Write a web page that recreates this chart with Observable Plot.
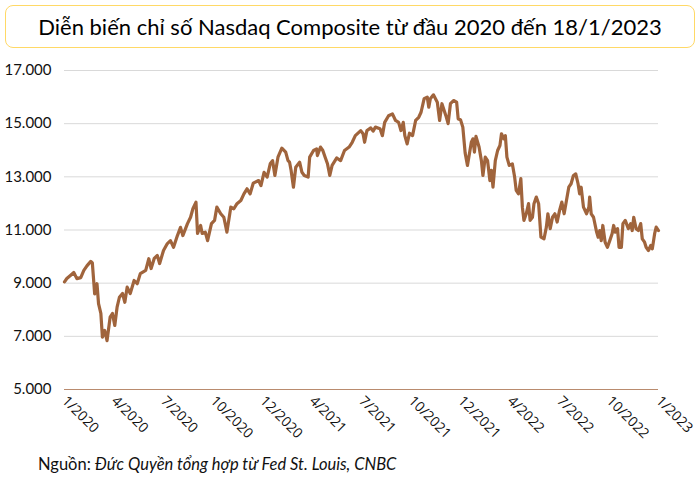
<!DOCTYPE html>
<html>
<head>
<meta charset="utf-8">
<script src="https://cdn.jsdelivr.net/npm/d3@7"></script>
<script src="https://cdn.jsdelivr.net/npm/@observablehq/plot@0.6"></script>
<style>
  html, body { margin: 0; padding: 0; background: #fff; }
  #wrap { position: relative; width: 700px; height: 483px; overflow: hidden; font-family: Lato, "Open Sans", sans-serif; }
  #title { position: absolute; left: 5px; top: 5px; width: 688px; height: 41px; border: 1.5px solid #FFD966; border-radius: 8px;
           display: flex; align-items: center; justify-content: center; font-size: 22px; color: #000; }
  #chart { position: absolute; left: 0; top: 50px; }
  #source { position: absolute; left: 38px; top: 454px; font-size: 16.5px; color: #111; }
</style>
</head>
<body>
<div id="wrap">
  <div id="title">Diễn biến chỉ số Nasdaq Composite từ đầu 2020 đến 18/1/2023</div>
  <div id="chart"></div>
  <div id="source">Nguồn: <i>Đức Quyền tổng hợp từ Fed St. Louis, CNBC</i></div>
</div>
<script>
// trading-session index (from 1/2020) and index level
const sessions = [0,3,8,12,16,21,25,29,34,36,39,42,44,47,49,52,55,59,62,65,68,71,75,78,81,85,90,94,98,105,109,112,116,120,123,128,133,137,141,146,150,153,159,163,166,170,172,176,178,182,185,190,194,197,202,206,210,215,219,223,228,232,236,240,244,251,254,258,262,266,269,272,276,281,286,289,291,293,296,299,304,307,310,315,317,322,326,327,331,334,337,340,343,346,352,357,362,368,372,376,383,386,388,391,396,399,402,408,411,414,419,424,428,432,435,438,440,443,446,450,454,458,461,465,469,471,473,477,482,485,488,493,496,499,503,507,509,512,515,518,521,526,528,530,532,536,539,541,544,547,550,552,554,557,560,563,565,568,570,572,575,579,582,584,587,590,592,594,597,600,602,605,607,610,613,616,620,623,625,628,631,634,637,640,643,646,649,652,655,658,661,664,666,668,671,675,678,679,681,684,688,690,692,694,696,699,702,705,708,710,712,715,717,720,722,725,729,732,734,736,739,742,745,747,750,752,755,758,760,763,765,768];
const closes = [9050,9175,9300,9400,9170,9210,9480,9650,9820,9760,8600,8980,8230,7860,6970,7220,6840,7720,7860,7410,8100,8470,8610,8280,8850,8610,9100,8980,9360,9480,9920,9550,9930,10040,9740,10230,10490,10600,10350,10790,11100,10790,11240,11480,11800,12045,10870,11170,10870,10920,10600,11240,11360,11860,11610,11480,10920,11860,11800,11990,12110,12360,12550,12360,12760,12860,12670,13170,12990,13490,13610,13050,13740,14080,13930,13610,13550,13240,12610,13360,13550,13170,13050,12990,13740,13990,14050,13800,14120,13990,13740,13490,13050,13430,13710,13610,13990,14120,14300,14550,14740,14620,14300,14740,14840,14720,14870,14810,14550,15050,15300,15370,15120,15050,14740,15050,14550,14240,14640,14550,15120,15240,15430,15940,16000,15620,15940,16085,15810,15120,15750,15310,15000,15750,15870,15810,15180,15150,14870,13900,13430,14300,14430,13930,14520,14120,13610,13050,13740,13610,12860,13240,12610,13610,13990,14180,14620,14430,14550,13740,13430,13490,12990,12490,12360,12930,11860,11360,11610,11990,11360,11480,11990,12240,11990,10730,10670,11110,11610,11050,11480,11610,11300,11730,12050,11610,12110,12610,12740,13050,13110,12740,12360,12610,11860,11610,11860,12240,11610,11480,10920,10730,10980,10600,11170,10540,10350,10600,10860,11170,10920,11050,10350,10350,11240,11360,11050,11240,10980,11480,11050,10980,11240,10670,10540,10350,10230,10420,10290,10860,11110,10980];
// category-axis labels (one every 64 sessions)
const tickSessions = [0,64,128,192,256,320,384,448,512,576,640,704,768];
const tickLabels = ["1/2020","4/2020","7/2020","10/2020","12/2020","4/2021","7/2021","10/2021","12/2021","4/2022","7/2022","10/2022","1/2023"];
const yTicks = [5000,7000,9000,11000,13000,15000,17000];

const data = sessions.map((s, i) => ({s, v: closes[i]}));
const fmt = v => d3.format(",")(v).replace(/,/g, ".");

const chart = Plot.plot({
  width: 700,
  height: 400,
  marginTop: 20,
  marginBottom: 61,
  marginLeft: 64,
  marginRight: 42,
  style: {fontFamily: "Lato, 'Open Sans', sans-serif", fontSize: "14px", color: "#111", background: "transparent"},
  x: {domain: [0, 768], axis: null},
  y: {domain: [5000, 17000], axis: null},
  marks: [
    Plot.gridY(yTicks.filter(t => t > 5000), {stroke: "#d9d9d9", strokeOpacity: 1, strokeWidth: 1}),
    Plot.ruleY([5000], {stroke: "#b98b6e", strokeWidth: 1.2}),
    Plot.axisY(yTicks, {tickSize: 0, tickPadding: 13, tickFormat: fmt, fontSize: 15, label: null}),
    Plot.axisX(tickSessions, {tickSize: 0, tickPadding: 9, tickRotate: 45, tickFormat: (d, i) => tickLabels[i], fontSize: 14, fontFamily: "'Open Sans', sans-serif", textAnchor: "start", label: null}),
    Plot.line(data, {x: "s", y: "v", stroke: "#a0643c", strokeWidth: 3.2, strokeLinejoin: "round"})
  ]
});
document.getElementById("chart").appendChild(chart);
</script>
</body>
</html>
